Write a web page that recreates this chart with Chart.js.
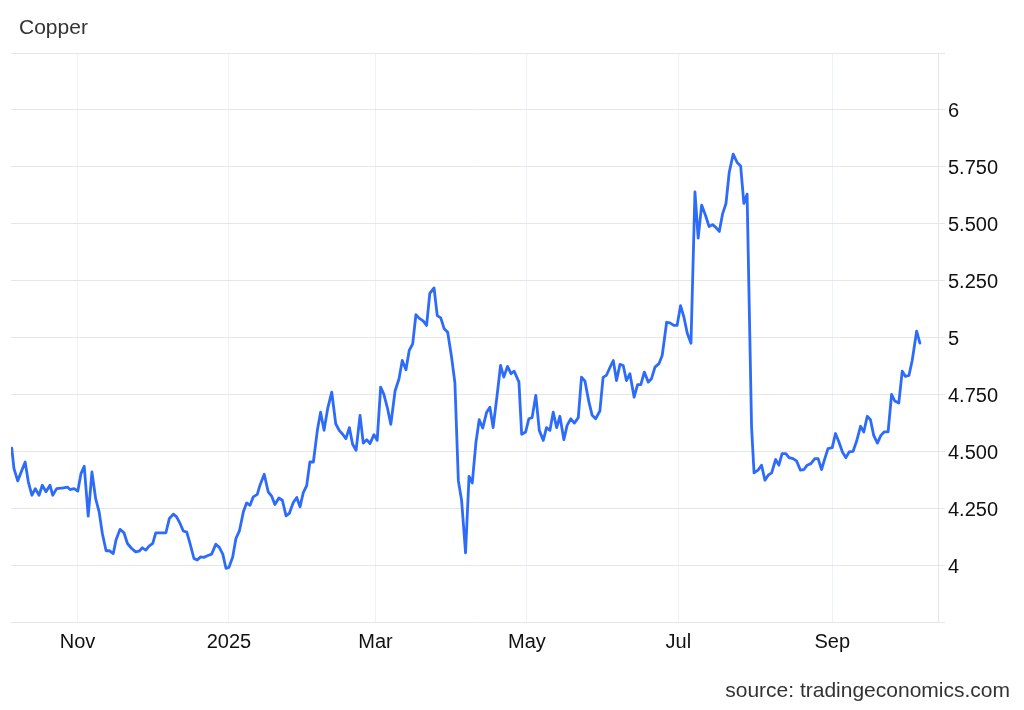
<!DOCTYPE html>
<html>
<head>
<meta charset="utf-8">
<title>Copper</title>
<script src="https://cdn.jsdelivr.net/npm/chart.js@4"></script>
<style>
  body { margin: 0; background: #fff; font-family: "Liberation Sans", Arial, sans-serif; }
  .wrap { position: relative; width: 1024px; height: 710px; }
  .title { position: absolute; left: 19px; top: 15px; font-size: 21px; color: #333; }
  .source { position: absolute; right: 14px; top: 678px; font-size: 21px; color: #333; }
  canvas { position: absolute; left: 0; top: 0; }
</style>
</head>
<body>
<div class="wrap">
  <canvas id="chart" width="1024" height="710"></canvas>
  <div class="title">Copper</div>
  <div class="source">source: tradingeconomics.com</div>
</div>
<script>
// days since 2024-11-01 and price in USD/lb
const dayOffsets = [
  -26.5, -25.6, -24.1, -21.1, -19.8, -18.4, -17.0, -15.5, -14.2, -12.7,
  -11.1, -10.0, -8.4, -5.7, -4.1, -3.0, -1.4, 0.1, 1.4, 2.7,
  4.3, 5.8, 7.3, 8.7, 10.0, 11.5, 12.8, 14.4, 15.5, 17.1,
  18.7, 20.1, 21.8, 23.4, 24.8, 26.1, 27.5, 28.8, 30.3, 31.5,
  32.9, 35.6,
  37.0, 38.6, 39.9, 41.3, 42.6, 44.0, 45.3, 46.9, 48.2, 49.6,
  50.9, 52.3, 54.0, 55.7, 57.1, 58.5, 59.8, 61.0, 62.5, 63.8,
  65.2, 66.8, 68.1, 69.5, 70.8, 72.4, 73.5, 75.2, 76.8, 78.2,
  79.5, 81.1, 82.5, 84.0, 85.3, 86.9, 88.3, 89.6, 90.9, 92.3,
  93.6, 95.0, 96.6, 97.9, 99.3,
  100.8, 102.4, 104.0, 105.4, 106.8, 108.1, 109.5, 110.8, 112.2, 113.8,
  115.1, 116.5, 117.8, 119.4, 120.7, 122.1, 123.4, 124.9, 126.2, 127.9,
  129.5, 130.8, 132.3, 133.6, 135.0, 136.3, 137.6, 139.3, 140.6, 141.9,
  143.6, 144.9, 146.3, 147.7, 149.1, 150.7, 152.0, 153.4, 154.7, 156.3,
  157.7, 159.0,
  160.5, 161.8, 163.2, 164.8, 166.1, 167.4, 169.0, 170.4, 171.7, 173.2,
  174.6, 175.9, 177.8, 178.9, 180.5, 181.8, 183.1, 184.6, 186.0, 187.6,
  188.9, 190.3, 191.6, 193.0, 194.3, 195.9, 197.2, 198.7, 200.1, 201.7,
  203.0, 204.4, 206.0, 207.3, 208.7, 210.4, 211.7, 213.1, 214.4,
  215.8, 217.1, 218.5, 219.8, 221.1, 222.5, 224.2, 225.6, 226.9, 228.3,
  229.9, 231.2, 232.6, 234.2, 235.5, 237.3, 238.6, 240.2, 241.5, 242.9,
  244.2, 245.6, 247.1, 248.7, 250.0, 251.4, 253.0, 254.4, 255.8, 257.1,
  258.5, 259.8, 261.2, 262.5, 264.1, 265.7, 267.1, 268.4, 269.7,
  271.5, 272.5, 274.1, 275.5, 276.9, 278.2, 279.6, 281.2, 282.5, 283.8,
  285.3, 286.6, 288.2, 289.6, 291.2, 292.6, 293.9, 295.4, 297.0, 298.3,
  299.7, 301.0, 302.3, 304.0, 305.3, 306.7, 308.1, 309.5, 310.8, 312.4,
  313.8, 315.4, 316.7, 318.1, 319.4, 320.7, 322.2, 323.6, 324.9, 326.5,
  327.9, 329.2, 330.8, 332.2, 333.5, 334.9, 336.2, 338.0, 339.3
];

const copperPrices = [
  4.514, 4.424, 4.370, 4.453, 4.365, 4.307, 4.336, 4.307, 4.351, 4.322,
  4.351, 4.307, 4.336, 4.339, 4.343, 4.332, 4.336, 4.325, 4.402, 4.434,
  4.215, 4.409, 4.292, 4.234, 4.139, 4.063, 4.063, 4.051, 4.110, 4.157,
  4.142, 4.095, 4.073, 4.058, 4.061, 4.076, 4.066, 4.083, 4.095, 4.142,
  4.142, 4.142,
  4.205, 4.224, 4.212, 4.183, 4.150, 4.145, 4.095, 4.029, 4.022, 4.036,
  4.034, 4.041, 4.048, 4.092, 4.078, 4.048, 3.986, 3.990, 4.036, 4.117,
  4.150, 4.234, 4.273, 4.263, 4.300, 4.311, 4.351, 4.399, 4.322, 4.303,
  4.266, 4.295, 4.285, 4.216, 4.227, 4.275, 4.297, 4.256, 4.317, 4.349,
  4.453, 4.453, 4.592, 4.672, 4.592,
  4.690, 4.760, 4.621, 4.592, 4.575, 4.556, 4.604, 4.531, 4.504, 4.658,
  4.536, 4.551, 4.534, 4.573, 4.548, 4.782, 4.750, 4.687, 4.618, 4.765,
  4.819, 4.899, 4.858, 4.943, 4.972, 5.100, 5.085, 5.072, 5.053, 5.194,
  5.218, 5.096, 5.086, 5.038, 5.023, 4.911, 4.802, 4.370, 4.285, 4.054,
  4.390, 4.361,
  4.541, 4.639, 4.602, 4.672, 4.694, 4.604, 4.746, 4.877, 4.826, 4.873,
  4.841, 4.852, 4.804, 4.575, 4.585, 4.643, 4.648, 4.746, 4.592, 4.548,
  4.604, 4.592, 4.672, 4.604, 4.654, 4.551, 4.614, 4.643, 4.624, 4.648,
  4.826, 4.808, 4.716, 4.658, 4.643, 4.677, 4.825, 4.835, 4.867,
  4.899, 4.811, 4.882, 4.877, 4.811, 4.841, 4.738, 4.793, 4.793, 4.848,
  4.804, 4.819, 4.870, 4.885, 4.921, 5.067, 5.064, 5.053, 5.053, 5.140,
  5.092, 5.019, 4.975, 5.640, 5.437, 5.582, 5.535, 5.487, 5.496, 5.484,
  5.466, 5.542, 5.589, 5.725, 5.806, 5.769, 5.754, 5.589, 5.630,
  4.607, 4.405, 4.417, 4.439, 4.373, 4.395, 4.405, 4.464, 4.439, 4.490,
  4.490, 4.472, 4.468, 4.458, 4.417, 4.420, 4.439, 4.446, 4.468, 4.468,
  4.420, 4.468, 4.512, 4.516, 4.578, 4.541, 4.497, 4.472, 4.497, 4.500,
  4.544, 4.610, 4.585, 4.654, 4.639, 4.570, 4.536, 4.570, 4.585, 4.585,
  4.750, 4.721, 4.712, 4.852, 4.829, 4.833, 4.899, 5.028, 4.975
];

// x axis ticks (month starts) and their labels
const tickDates = ['2024-11-01', '2025-01-01', '2025-03-01', '2025-05-01', '2025-07-01', '2025-09-01'];
const tickLabels = ['Nov', '2025', 'Mar', 'May', 'Jul', 'Sep'];

const baseTime = Date.parse('2024-11-01');
const tickDays = tickDates.map(d => (Date.parse(d) - baseTime) / 86400000);

const points = dayOffsets.map((d, i) => ({ x: d, y: copperPrices[i] }));

const fontFamily = '"Liberation Sans", Arial, sans-serif';

const ctx = document.getElementById('chart').getContext('2d');
new Chart(ctx, {
    type: 'line',
    data: {
        datasets: [{
            label: 'Copper',
            data: points,
            borderColor: '#2d6bfa',
            borderWidth: 2.8,
            pointRadius: 0,
            tension: 0,
            borderJoinStyle: 'round',
            borderCapStyle: 'round'
        }]
    },
    options: {
        responsive: false,
        animation: false,
        layout: {
            padding: { left: 11, top: 53, right: 0, bottom: 0 }
        },
        plugins: {
            legend: { display: false },
            tooltip: { enabled: false }
        },
        scales: {
            x: {
                type: 'linear',
                min: -26.8,
                max: 346.6,
                afterBuildTicks: function(axis) {
                    axis.ticks = tickDays.map(v => ({ value: v }));
                },
                afterFit: function(axis) {
                    axis.height = 88;
                },
                grid: { color: '#edf2f8', drawTicks: false },
                border: { display: false },
                ticks: {
                    autoSkip: false,
                    maxRotation: 0,
                    padding: 8,
                    color: '#111',
                    font: { size: 20, family: fontFamily },
                    callback: function(value) {
                        const i = tickDays.indexOf(value);
                        return i >= 0 ? tickLabels[i] : '';
                    }
                }
            },
            y: {
                position: 'right',
                min: 3.75,
                max: 6.25,
                afterFit: function(axis) {
                    axis.width = 86;
                },
                grid: { color: '#e6e6e6', tickLength: 7 },
                border: { color: '#e6e6e6' },
                ticks: {
                    stepSize: 0.25,
                    padding: 3,
                    labelOffset: 2,
                    color: '#111',
                    font: { size: 20, family: fontFamily },
                    callback: function(value) {
                        if (value < 3.9 || value > 6.1) return '';
                        if (Math.abs(value - Math.round(value)) < 1e-9) return String(Math.round(value));
                        return value.toFixed(3);
                    }
                }
            }
        }
    }
});
</script>
</body>
</html>
